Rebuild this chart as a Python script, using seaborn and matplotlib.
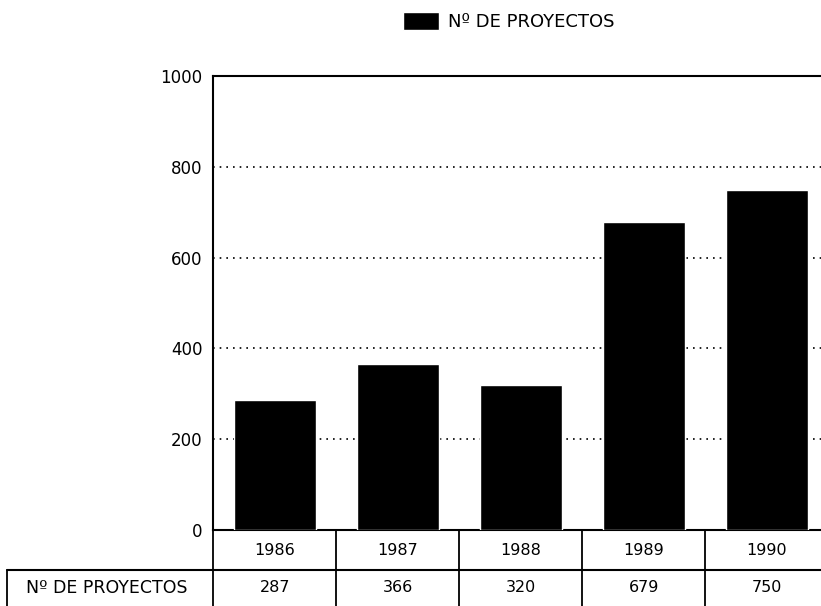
import numpy as np
import pandas as pd
import seaborn as sns
import matplotlib.pyplot as plt

# data
years = ["1986", "1987", "1988", "1989", "1990"]
proyectos = [287, 366, 320, 679, 750]
serie = "Nº DE PROYECTOS"
yticks = [0, 200, 400, 600, 800, 1000]

df = pd.DataFrame({"year": years, "n": proyectos})

sns.set_style("white")
plt.rcParams["font.family"] = ["DejaVu Sans"]
plt.rcParams["text.color"] = "black"

fig = plt.figure(figsize=(8.21, 6.06), dpi=100)
ax = fig.add_axes([0.26, 0.1254, 0.749, 0.749])

sns.barplot(data=df, x="year", y="n", color="black", width=0.67,
            saturation=1, label=serie, ax=ax, zorder=3)
if ax.get_legend() is not None:
    ax.get_legend().remove()

ax.set_ylim(0, 1000)
ax.set_xlim(-0.5, len(years) - 0.5)
ax.set_yticks(yticks)
ax.set_yticklabels([str(t) for t in yticks], fontsize=12, color="black")
ax.set_xticks([])
ax.set_xlabel("")
ax.set_ylabel("")
ax.tick_params(axis="y", direction="in", length=5, width=1.2, color="black", pad=8)

# dotted grid
for t in yticks[1:-1]:
    ax.axhline(t, color="black", lw=1.2, ls=(0, (1, 3)), zorder=1)

for s in ["left", "top", "bottom"]:
    ax.spines[s].set_color("black")
    ax.spines[s].set_linewidth(1.5)
ax.spines["right"].set_visible(False)

# data table under the axis
tr = ax.get_xaxis_transform()
r1 = -40 / 454
r2 = -76 / 454
lab_left = (7 - 213.5) / 615
for i, (y, v) in enumerate(zip(years, proyectos)):
    ax.text(i, r1 / 2, y, transform=tr, ha="center", va="center", fontsize=11.5, color="black")
    ax.text(i, (r1 + r2) / 2, str(v), transform=tr, ha="center", va="center", fontsize=11.5, color="black")
for i in range(len(years) + 1):
    ax.plot([i - 0.5, i - 0.5], [0, r2], transform=tr, color="black", lw=1.3, clip_on=False)
ax.plot([lab_left, 1.2], [r1, r1], transform=ax.transAxes, color="black", lw=1.5, clip_on=False)
ax.plot([lab_left, lab_left], [r1, r2], transform=ax.transAxes, color="black", lw=1.3, clip_on=False)
ax.text((107 - 213.5) / 615, (r1 + r2) / 2, serie, transform=ax.transAxes,
        ha="center", va="center", fontsize=12.5, color="black")

# legend at the top
fig.legend(loc="center", bbox_to_anchor=(0.62, 0.965), frameon=False, fontsize=13,
           handlelength=2.0, handleheight=1.2, handletextpad=0.5, labelcolor="black")

fig.savefig("out.png", dpi=100, facecolor="white")
